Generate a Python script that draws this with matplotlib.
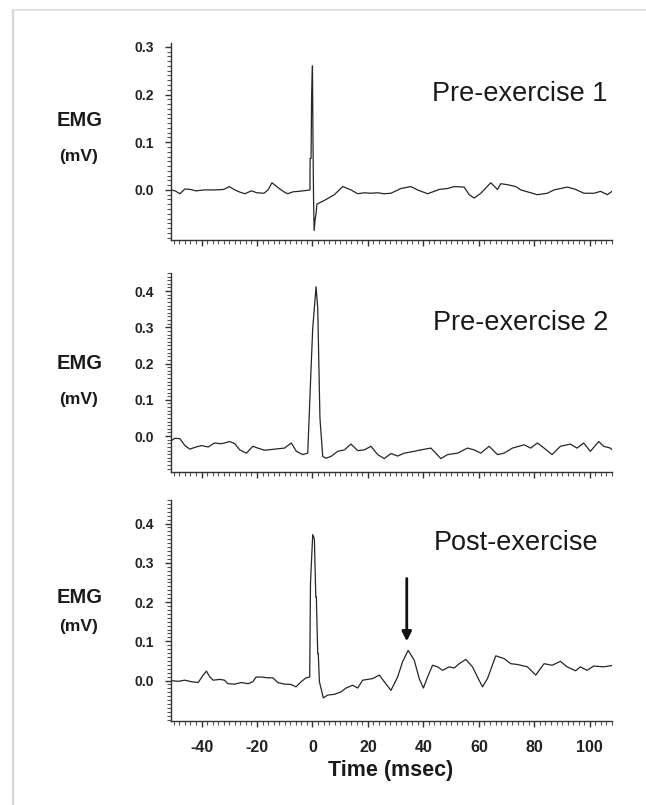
import matplotlib
matplotlib.use('Agg')
import matplotlib.pyplot as plt
from matplotlib.lines import Line2D
from matplotlib.ticker import MultipleLocator, FormatStrFormatter

plt.rcParams['font.family'] = ['Liberation Sans', 'DejaVu Sans']
plt.rcParams['axes.unicode_minus'] = False

# Pre-exercise 1 trace (msec, mV)
t1 = [-51, -49.5, -47.8, -46, -44, -42, -39, -35, -32, -30, -28, -26, -24.4, -22, -20,
      -17.5, -16, -14.6, -13.5, -12, -10, -8.9, -7, -5, -2, -0.9, -0.85, -0.5, -0.3, 0.0,
      0.2, 0.4, 0.6, 1.0, 1.3, 1.6, 2.2, 4.3, 7.9, 10.9, 13.9, 16.3, 18.7, 21.1, 23.5,
      25.9, 28.3, 31.9, 35.5, 37.9, 41.5, 43.9, 45.7, 48.7, 51.1, 54.7, 56.5, 58.3, 60.7,
      64.3, 66.7, 67.9, 70.3, 73.3, 75.1, 78.7, 81.1, 84.7, 87.1, 91.9, 94.9, 97.9, 101.5,
      103.9, 106.3, 108]
emg1 = [0.0, -0.002, -0.008, 0.002, 0.001, -0.002, 0.0, 0.0, 0.001, 0.007, 0.0, -0.005,
        -0.008, -0.002, -0.006, -0.007, 0.0, 0.015, 0.01, 0.003, -0.005, -0.008, -0.004,
        -0.003, -0.001, 0.0, 0.066, 0.066, 0.2, 0.26, 0.1, -0.02, -0.085, -0.06, -0.05,
        -0.03, -0.028, -0.022, -0.01, 0.007, 0.0, -0.008, -0.006, -0.007, -0.006, -0.008,
        -0.007, 0.003, 0.007, 0.0, -0.008, -0.003, 0.001, 0.003, 0.007, 0.006, -0.01,
        -0.017, -0.007, 0.015, 0.001, 0.013, 0.011, 0.007, 0.0, -0.006, -0.01, -0.007,
        0.0, 0.006, 0.001, -0.007, -0.007, -0.003, -0.01, -0.003]

# Pre-exercise 2 trace
t2 = [-51.4, -49.6, -47.8, -46, -44.2, -42.4, -40, -37.6, -35.3, -32.8, -29.8, -28, -26.2,
      -23.8, -21.5, -19.7, -17.3, -13.7, -10.1, -7.6, -5.8, -3.5, -1.7, -0.5, 0.1, 1.3,
      1.9, 2.7, 3.7, 4.9, 6.7, 9.1, 11.5, 13.9, 16.3, 18.7, 21.1, 23.5, 25.9, 28.3, 30.7,
      33.1, 36.7, 39.1, 42.7, 46.3, 48.7, 52.3, 55.9, 58.3, 60.7, 63.7, 66.7, 69.1, 72.1,
      76.3, 78.7, 81.1, 83.5, 86.4, 89.4, 93, 95.4, 97.8, 100.2, 103.2, 105, 107.4, 108.6]
emg2 = [-0.015, -0.006, -0.007, -0.026, -0.036, -0.031, -0.026, -0.030, -0.019, -0.021,
        -0.015, -0.021, -0.038, -0.047, -0.028, -0.033, -0.039, -0.036, -0.033, -0.019,
        -0.042, -0.051, -0.047, 0.187, 0.298, 0.412, 0.353, 0.05, -0.056, -0.061, -0.056,
        -0.042, -0.038, -0.022, -0.040, -0.038, -0.028, -0.051, -0.062, -0.048, -0.055,
        -0.047, -0.042, -0.038, -0.033, -0.062, -0.051, -0.047, -0.033, -0.038, -0.047,
        -0.028, -0.051, -0.047, -0.033, -0.024, -0.033, -0.019, -0.033, -0.051, -0.028,
        -0.022, -0.033, -0.019, -0.042, -0.015, -0.028, -0.033, -0.042]

# Post-exercise trace
t3 = [-51, -48.4, -46, -43.6, -41.2, -39.4, -38.2, -37, -35.8, -33.4, -31.7, -30.5, -28,
      -25.6, -23.2, -21.5, -20.3, -18.5, -16.1, -14.3, -12.5, -10.1, -7.7, -5.9, -4.1,
      -2.3, -1.0, -0.7, 0.1, 0.7, 1.2, 1.4, 1.9, 2.1, 2.5, 3.1, 3.9, 5.5, 7.9, 10.3, 12.1,
      14.5, 16.3, 18.1, 19.9, 21.7, 24.1, 25.9, 28.3, 30.7, 32.5, 34.5, 36.7, 38.5, 40.0,
      41.5, 43.3, 45.1, 46.9, 49.3, 51.1, 52.9, 55.3, 57.7, 59.5, 61.3, 63.1, 66.1, 69.1,
      71.5, 73.9, 77.5, 80.5, 83.5, 86.4, 89.4, 91.8, 94.9, 96.6, 99.0, 101.4, 105.0, 108.6]
emg3 = [0.0, -0.002, 0.001, -0.003, -0.005, 0.014, 0.024, 0.009, 0.001, 0.003, 0.001,
        -0.008, -0.009, -0.005, -0.008, -0.003, 0.009, 0.009, 0.007, 0.007, -0.005, -0.009,
        -0.010, -0.016, -0.003, 0.007, 0.009, 0.25, 0.372, 0.36, 0.213, 0.213, 0.069, 0.069,
        -0.003, -0.02, -0.044, -0.037, -0.035, -0.029, -0.019, -0.012, -0.019, 0.001, 0.003,
        0.005, 0.014, -0.003, -0.025, 0.009, 0.048, 0.077, 0.052, 0.005, -0.019, 0.009,
        0.039, 0.035, 0.026, 0.035, 0.032, 0.043, 0.054, 0.035, 0.009, -0.016, 0.005, 0.063,
        0.056, 0.043, 0.041, 0.035, 0.014, 0.043, 0.039, 0.049, 0.035, 0.025, 0.035, 0.026,
        0.037, 0.035, 0.039]

titles = ['Pre-exercise 1', 'Pre-exercise 2', 'Post-exercise']
xticks = [-40, -20, 0, 20, 40, 60, 80, 100]
arrow_x, arrow_top, arrow_tip = 34, 0.26, 0.10

W, H = 646, 805
fig = plt.figure(figsize=(W / 100, H / 100), dpi=100)

# light frame around the figure
fig.add_artist(Line2D([13 / W, 13 / W], [0, 1 - 10 / H], color='#d6d6d6', lw=1.6,
                      transform=fig.transFigure))
fig.add_artist(Line2D([13 / W, 1], [1 - 10 / H, 1 - 10 / H], color='#e2e2e2', lw=1.4,
                      transform=fig.transFigure))

# pixel boxes (top, bottom) and y ranges of the three panels
boxes = [(43, 240), (273, 472), (500, 721)]
ylims = [(-0.105, 0.308), (-0.099, 0.45), (-0.103, 0.46)]
yticks = [[0.0, 0.1, 0.2, 0.3], [0.0, 0.1, 0.2, 0.3, 0.4], [0.0, 0.1, 0.2, 0.3, 0.4]]
title_pos = [(608, 101), (608, 330), (598, 550)]
emg_pos = [(120, 157), (363, 399), (597, 627)]
traces = [(t1, emg1), (t2, emg2), (t3, emg3)]

axes = []
for i, (top, bot) in enumerate(boxes):
    ax = fig.add_axes([171 / W, 1 - bot / H, 441 / W, (bot - top) / H])
    t, v = traces[i]
    ax.plot(t, v, color='#262626', lw=0.9)
    ax.set_xlim(-51, 108)
    ax.set_ylim(*ylims[i])
    ax.spines['top'].set_visible(False)
    ax.spines['right'].set_visible(False)
    for s in ['left', 'bottom']:
        ax.spines[s].set_color('#333333')
        ax.spines[s].set_linewidth(1.0)
    ax.set_yticks(yticks[i])
    ax.yaxis.set_major_formatter(FormatStrFormatter('%.1f'))
    ax.yaxis.set_minor_locator(MultipleLocator(0.01))
    ax.set_xticks(xticks)
    ax.xaxis.set_minor_locator(MultipleLocator(2))
    ax.tick_params(which='major', direction='out', length=4.5, width=1.0, color='#333333')
    ax.tick_params(which='minor', direction='out', length=3, width=0.8, color='#555555')
    ax.tick_params(axis='y', labelsize=10, pad=8)
    ax.tick_params(axis='x', labelsize=11.5, pad=9)
    for lab in ax.get_yticklabels() + ax.get_xticklabels():
        lab.set_fontweight('bold')
        lab.set_color('#222222')
    if i < 2:
        ax.set_xticklabels([])
    tx, ty = title_pos[i]
    fig.text(tx / W, 1 - ty / H, titles[i], ha='right', va='baseline', fontsize=19.5,
             color='#1a1a1a')
    ey, my = emg_pos[i]
    fig.text(80 / W, 1 - ey / H, 'EMG', ha='center', va='center', fontsize=14.5,
             fontweight='bold', color='#1a1a1a')
    fig.text(79 / W, 1 - my / H, '(mV)', ha='center', va='center', fontsize=12.5,
             fontweight='bold', color='#1a1a1a')
    axes.append(ax)

axes[2].annotate('', xy=(arrow_x, arrow_tip), xytext=(arrow_x, arrow_top),
                 arrowprops=dict(arrowstyle='-|>', color='#111111', lw=2,
                                 mutation_scale=14, shrinkA=0, shrinkB=0))

fig.text(391 / W, 1 - 770 / H, 'Time (msec)', ha='center', va='center', fontsize=15.5,
         fontweight='bold', color='#1a1a1a')

fig.savefig('out.png', dpi=100, facecolor='white')
